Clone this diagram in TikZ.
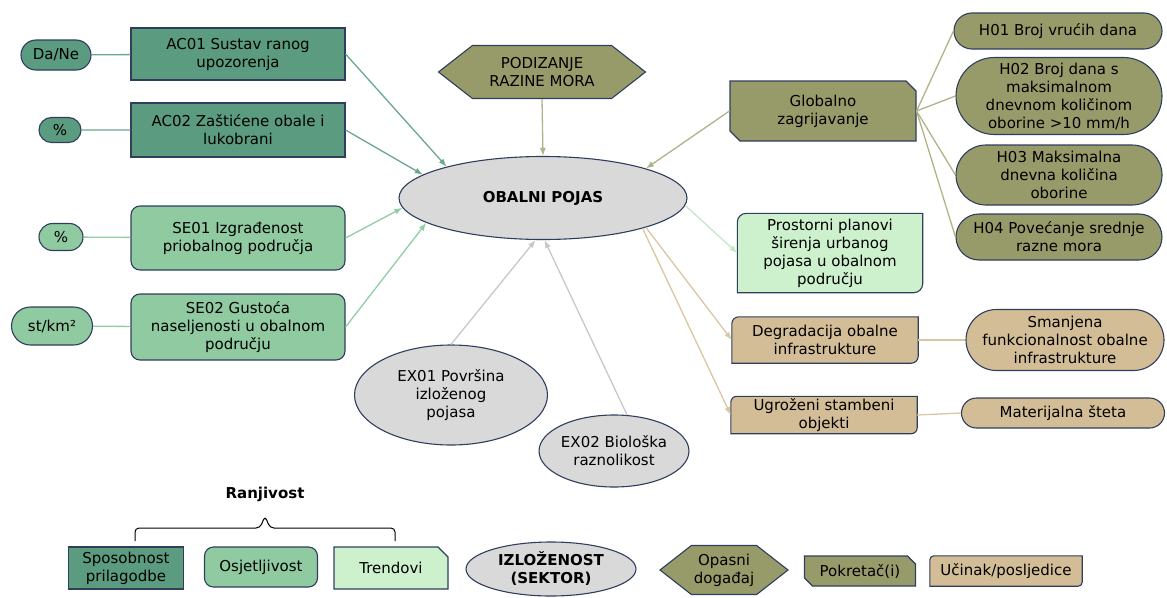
\documentclass[tikz,border=0pt]{standalone}
\usepackage{fontspec}
\setmainfont{DejaVu Sans}
\usepackage{tikz}
\usetikzlibrary{shapes.geometric, shapes.misc, shapes.symbols, arrows.meta, backgrounds}
\definecolor{tamnozelena}{RGB}{91,155,127}
\definecolor{zelena}{RGB}{143,202,161}
\definecolor{svijetlozelena}{RGB}{205,240,205}
\definecolor{maslinasta}{RGB}{151,155,106}
\definecolor{bez}{RGB}{211,189,150}
\definecolor{siva}{RGB}{217,217,217}
\definecolor{rub}{RGB}{47,62,92}
\definecolor{linijaac}{RGB}{105,168,140}
\definecolor{linijase}{RGB}{145,205,165}
\definecolor{linijasv}{RGB}{195,232,198}
\definecolor{linijamas}{RGB}{176,179,136}
\definecolor{linijabez}{RGB}{218,198,162}
\definecolor{linijasiva}{RGB}{200,200,200}
% okvir sa zaobljenim gornjim lijevim i donjim desnim kutom
\newcommand{\dijagonala}[3]{%
  \begin{scope}[on background layer]
    \draw[draw=rub, line width=1.1pt, fill=#2] (#1.south west) -- ([yshift=-#3]#1.north west)
      arc[start angle=180, end angle=90, radius=#3] -- (#1.north east)
      -- ([yshift=#3]#1.south east) arc[start angle=0, end angle=-90, radius=#3] -- cycle;
  \end{scope}}

\begin{document}
\begin{tikzpicture}[x=1pt, y=-1pt, font=\fontsize{15}{18}\selectfont,
    kutija/.style={draw=rub, line width=1.1pt, align=center, inner sep=1pt},
    pravokutnik/.style={kutija, rectangle},
    zaobljeni/.style={kutija, rectangle, rounded corners=9pt},
    pilula/.style={kutija, rounded rectangle},
    elipsa/.style={kutija, ellipse, fill=siva, inner sep=0pt},
    sesterokut/.style={kutija, signal, signal to=west and east, signal pointer angle=76, fill=maslinasta},
    skosen/.style={kutija, chamfered rectangle, chamfered rectangle sep=5pt},
    prazan/.style={align=center, inner sep=1pt},
    veza/.style={line width=1.3pt},
    strelica/.style={veza, -{Latex[length=8pt, width=6pt]}}]
    \useasboundingbox (0,0) rectangle (1167,597);

    % Prilagodba i osjetljivost (lijevo)
    \node[pilula, fill=tamnozelena, minimum width=72pt, minimum height=30pt] (dane) at (56,55) {Da/Ne};
    \node[pravokutnik, fill=tamnozelena, minimum width=214pt, minimum height=52pt] (ac01) at (238,54) {AC01 Sustav ranog\\upozorenja};
    \node[pilula, fill=tamnozelena, minimum width=44pt, minimum height=25pt] (posto1) at (60,130) {\%};
    \node[pravokutnik, fill=tamnozelena, minimum width=214pt, minimum height=54pt] (ac02) at (238,130) {AC02 Zaštićene obale i\\lukobrani};
    \node[pilula, fill=zelena, minimum width=46pt, minimum height=27pt] (posto2) at (61,237) {\%};
    \node[zaobljeni, fill=zelena, minimum width=214pt, minimum height=64pt] (se01) at (238,238) {SE01 Izgrađenost\\priobalnog područja};
    \node[pilula, fill=zelena, minimum width=83pt, minimum height=38pt] (gustoca) at (52,326) {st/km²};
    \node[zaobljeni, fill=zelena, minimum width=214pt, minimum height=66pt] (se02) at (238,327) {SE02 Gustoća\\naseljenosti u obalnom\\području};

    % Sredina
    \node[elipsa, minimum width=288pt, minimum height=83pt, font=\fontsize{15}{18}\selectfont\bfseries] (obala) at (543,198) {OBALNI POJAS};
    \node[sesterokut, minimum width=207pt, minimum height=53pt] (podizanje) at (542,72) {PODIZANJE\\RAZINE MORA};
    \node[elipsa, minimum width=193pt, minimum height=100pt] (ex01) at (451,395) {EX01 Površina\\izloženog\\pojasa};
    \node[elipsa, minimum width=143pt, minimum height=72pt] (ex02) at (614,451) {EX02 Biološka\\raznolikost};

    % Pokretaci i posljedice (desno)
    \node[skosen, chamfered rectangle corners={north east, south west}, fill=maslinasta, minimum width=186pt, minimum height=60pt] (globalno) at (823,111) {Globalno\\zagrijavanje};
    \node[pilula, fill=maslinasta, minimum width=210pt, minimum height=36pt] (h01) at (1058,31) {H01 Broj vrućih dana};
    \node[pilula, fill=maslinasta, minimum width=208pt, minimum height=77pt] (h02) at (1059,96) {H02 Broj dana s\\maksimalnom\\dnevnom količinom\\oborine >10 mm/h};
    \node[pilula, fill=maslinasta, minimum width=208pt, minimum height=60pt] (h03) at (1059,175) {H03 Maksimalna\\dnevna količina\\oborine};
    \node[pilula, fill=maslinasta, minimum width=208pt, minimum height=46pt] (h04) at (1059,237) {H04 Povećanje srednje\\razne mora};
    \node[prazan, minimum width=185pt, minimum height=79pt] (prostor) at (830,253) {Prostorni planovi\\širenja urbanog\\pojasa u obalnom\\području};
    \dijagonala{prostor}{svijetlozelena}{9pt}
    \node[prazan, minimum width=186pt, minimum height=46pt] (degradacija) at (825,340) {Degradacija obalne\\infrastrukture};
    \dijagonala{degradacija}{bez}{7pt}
    \node[prazan, minimum width=186pt, minimum height=37pt] (ugrozeni) at (824,415) {Ugroženi stambeni\\objekti};
    \dijagonala{ugrozeni}{bez}{6pt}
    \node[pilula, fill=bez, minimum width=200pt, minimum height=61pt] (smanjena) at (1065,340) {Smanjena\\funkcionalnost obalne\\infrastrukture};
    \node[pilula, fill=bez, minimum width=205pt, minimum height=30pt] (materijalna) at (1063,413) {Materijalna šteta};

    % Veze
    \draw[veza, linijaac] (dane) -- (ac01);
    \draw[veza, linijaac] (posto1) -- (ac02);
    \draw[veza, linijase] (posto2) -- (se01);
    \draw[veza, linijase] (gustoca) -- (se02);
    \draw[strelica, linijaac] (ac01.east) -- (obala.162);
    \draw[strelica, linijaac] (ac02.east) -- (obala.169);
    \draw[strelica, linijase] (se01.east) -- (obala.-176);
    \draw[strelica, linijase] (se02.east) -- (obala.-168);
    \draw[strelica, linijamas] (podizanje.south) -- (obala.north);
    \draw[strelica, linijamas] (globalno.west) -- (obala.16);
    \foreach \h in {h01,h02,h03,h04}
        \draw[veza, linijamas] (globalno.east) -- (\h.west);
    \draw[strelica, linijasv] (obala.-3) -- (prostor.west);
    \draw[strelica, linijabez] (obala.-16) -- (degradacija.west);
    \draw[strelica, linijabez] (obala.-17) -- (ugrozeni.west);
    \draw[veza, linijabez] (degradacija.east) -- (smanjena.west);
    \draw[veza, linijabez] (ugrozeni.east) -- (materijalna.west);
    \draw[strelica, linijasiva] (ex01.north) -- (obala.-100);
    \draw[strelica, linijasiva] (ex02.70) -- (obala.-88);

    % Legenda
    \node[font=\fontsize{15}{18}\selectfont\bfseries] (ranjivost) at (265,494) {Ranjivost};
    \draw[line width=1pt, rounded corners=4pt] (135,541) -- (135,528) -- (260,528) -- (265,516) -- (270,528) -- (395,528) -- (395,541);
    \node[pravokutnik, fill=tamnozelena, minimum width=115pt, minimum height=42pt] (sposobnost) at (126,568) {Sposobnost\\prilagodbe};
    \node[zaobljeni, fill=zelena, minimum width=113pt, minimum height=40pt] (osjetljivost) at (261,567) {Osjetljivost};
    \node[skosen, chamfered rectangle corners=north east, fill=svijetlozelena, minimum width=114pt, minimum height=42pt] (trendovi) at (391,568) {Trendovi};
    \node[elipsa, minimum width=170pt, minimum height=54pt, font=\fontsize{15}{18}\selectfont\bfseries] (izlozenost) at (551,569) {IZLOŽENOST\\(SEKTOR)};
    \node[sesterokut, minimum width=128pt, minimum height=49pt] (opasni) at (724,570) {Opasni\\događaj};
    \node[skosen, chamfered rectangle corners={north east, south west}, chamfered rectangle sep=4pt, fill=maslinasta, minimum width=111pt, minimum height=30pt] (pokretac) at (860,571) {Pokretač(i)};
    \node[prazan, minimum width=152pt, minimum height=30pt] (ucinak) at (1006,571) {Učinak/posljedice};
    \dijagonala{ucinak}{bez}{4pt}
\end{tikzpicture}
\end{document}
